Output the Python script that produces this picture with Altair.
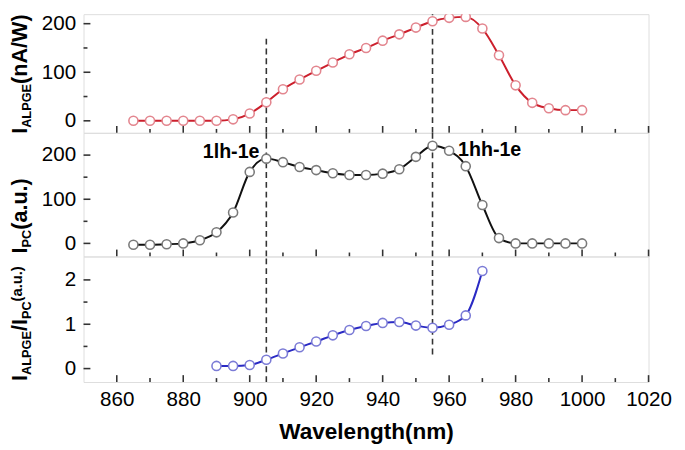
import altair as alt
import pandas as pd

# ---------------- data ----------------
wl = list(range(865, 1001, 5))
alpge = [0, 0, 0, 0, 0, 0, 3, 15, 38, 65, 85, 103, 120, 137, 150, 165, 178, 192,
         205, 212, 214, 190, 135, 73, 37, 26, 22, 22]
pc = [-3, -3, -2, 0, 7, 25, 70, 162, 192, 184, 173, 166, 159, 155, 155, 158, 168,
      196, 221, 210, 175, 87, 12, 0, 0, 0, 0, 0]
wl_ratio = list(range(890, 971, 5))
ratio = [0.06, 0.06, 0.08, 0.2, 0.34, 0.48, 0.61, 0.75, 0.87, 0.96, 1.03, 1.05,
         0.97, 0.92, 0.99, 1.2, 2.2]

x_ticks_major = [860, 880, 900, 920, 940, 960, 980, 1000, 1020]
x_ticks_minor = [870, 890, 910, 930, 950, 970, 990, 1010]
top_yticks = [0, 100, 200]
top_yminor = [50, 150]
mid_yticks = [0, 100, 200]
mid_yminor = [50, 150]
bot_yticks = [0, 1, 2]
bot_yminor = [0.5, 1.5]

vline_x = [905, 955]
top_vline_hi = [177, 219.6]
bot_vline_lo = [-0.303, 0.32]

ann_text = ["1lh-1e", "1hh-1e"]
ann_x = [905, 955]
ann_y = [193, 197]

x_title = "Wavelength(nm)"

# ---------------- style ----------------
FONT = "Liberation Sans"
W = 576
H_TOP, H_MID, H_BOT = 121, 126, 128
XDOM = [850, 1020]
TOP_DOM = [-24.8, 219.6]
MID_DOM = [-29.6, 250.4]
BOT_DOM = [-0.303, 2.529]

xs = alt.Scale(domain=XDOM, nice=False, zero=False)
x_axis = alt.Axis(values=x_ticks_major, format="d", ticks=False, domain=False, grid=False,
                  labelFontSize=21, labelFont=FONT, labelColor="black",
                  labelPadding=7, labelFlush=False, labelOverlap=False,
                  title=x_title, titleFont=FONT, titleFontSize=23,
                  titleFontWeight="bold", titleColor="black", titlePadding=12)

CW = {"I": .278, "A": .722, "L": .611, "P": .667, "G": .778, "E": .667, "C": .722,
      "(": .333, ")": .333, "n": .611, "/": .278, "W": .944, "a": .556, ".": .278,
      "u": .611}


def tw(s, fs):
    return sum(CW.get(c, .6) for c in s) * fs


def title_layers(pieces, y0):
    # pieces: list of (text, fontsize, baseline shift)
    layers = []
    y = y0
    for txt, fs, shift in pieces:
        layers.append(
            alt.Chart(pd.DataFrame({"t": [txt]})).mark_text(
                angle=270, align="left", baseline="alphabetic", font=FONT,
                fontSize=fs, fontWeight="bold", color="black"
            ).encode(text="t:N", x=alt.value(-58 + shift), y=alt.value(y))
        )
        y -= tw(txt, fs)
    return layers


def panel(xvals, yvals, ydom, h, line_col, pt_col, yticks, yminor, vlo, vhi,
          show_x, title_pieces, title_y0, clip=False, extra=None):
    ys = alt.Scale(domain=ydom, nice=False, zero=False)
    y_axis = alt.Axis(values=yticks, ticks=False, domain=False, grid=False,
                      labelFontSize=21, labelFont=FONT, labelColor="black",
                      labelPadding=8, labelFlush=False, labelOverlap=False,
                      title=None)
    xa = x_axis if show_x else None
    df = pd.DataFrame({"w": xvals, "v": yvals})
    X = alt.X("w:Q", scale=xs, axis=xa)
    Y = alt.Y("v:Q", scale=ys, axis=y_axis)
    base = alt.Chart(df)
    line = base.mark_line(color=line_col, strokeWidth=2, interpolate="monotone",
                          clip=clip).encode(x=X, y=Y)
    pts = base.mark_circle(size=85, fill="white", stroke=pt_col, strokeWidth=1.6,
                           opacity=1, clip=clip).encode(x=X, y=Y)

    vdf = pd.DataFrame({"x": vline_x, "lo": vlo, "hi": vhi})
    vl = alt.Chart(vdf).mark_rule(color="#333333", strokeWidth=1.6,
                                  strokeDash=[6, 4]).encode(
        x=alt.X("x:Q", scale=xs, axis=xa),
        y=alt.Y("lo:Q", scale=ys, axis=y_axis), y2="hi:Q")

    def xt(vals, ln):
        return alt.Chart(pd.DataFrame({"t": vals})).mark_rule(
            color="#333333", strokeWidth=1.6).encode(
            x=alt.X("t:Q", scale=xs, axis=xa),
            y=alt.value(h), y2=alt.value(h - ln))

    def yt(vals, ln):
        return alt.Chart(pd.DataFrame({"t": vals})).mark_rule(
            color="#333333", strokeWidth=1.6).encode(
            y=alt.Y("t:Q", scale=ys, axis=y_axis),
            x=alt.value(0), x2=alt.value(ln))

    layers = [vl, line, pts, xt(x_ticks_major, 7), xt(x_ticks_minor, 4),
              yt(yticks, 7), yt(yminor, 4)]
    layers += title_layers(title_pieces, title_y0)
    if extra is not None:
        layers += extra(X, ys, y_axis, xa)
    return alt.layer(*layers).properties(width=W, height=h)


def annotations(X, ys, y_axis, xa):
    out = []
    for t, xv, yv, al, dx in zip(ann_text, ann_x, ann_y, ["right", "left"], [-7, 26]):
        out.append(
            alt.Chart(pd.DataFrame({"t": [t], "x": [xv], "y": [yv]})).mark_text(
                align=al, baseline="alphabetic", dx=dx, font=FONT, fontSize=20,
                fontWeight="bold", color="black"
            ).encode(text="t:N", x=alt.X("x:Q", scale=xs, axis=xa),
                     y=alt.Y("y:Q", scale=ys, axis=y_axis))
        )
    return out


top = panel(wl, alpge, TOP_DOM, H_TOP, "#cc1f2c", "#e3868f", top_yticks, top_yminor,
            [TOP_DOM[0], TOP_DOM[0]], top_vline_hi, False,
            [("I", 22, 0), ("ALPGE", 13, 4), ("(nA/W)", 22, 0)], 122, clip=True)
mid = panel(wl, pc, MID_DOM, H_MID, "#111111", "#7a7a7a", mid_yticks, mid_yminor,
            [MID_DOM[0], MID_DOM[0]], [MID_DOM[1], MID_DOM[1]], False,
            [("I", 22, 0), ("PC", 13, 4), ("(a.u.)", 22, 0)], 123,
            extra=annotations)
bot = panel(wl_ratio, ratio, BOT_DOM, H_BOT, "#2a2ac4", "#7b7bd6", bot_yticks, bot_yminor,
            bot_vline_lo, [BOT_DOM[1], BOT_DOM[1]], True,
            [("I", 22, 0), ("ALPGE", 13, 4), ("/I", 22, 0), ("PC", 13, 4),
             ("(a.u.)", 15, -5)], 127)

chart = alt.vconcat(top, mid, bot, spacing=0, bounds="flush").properties(
    padding={"left": 0, "top": 0, "right": 5, "bottom": 0}
).configure_view(stroke="#333333", strokeWidth=2).configure(background="white")

chart.save("out.html", embed_options={"renderer": "svg", "actions": False})
